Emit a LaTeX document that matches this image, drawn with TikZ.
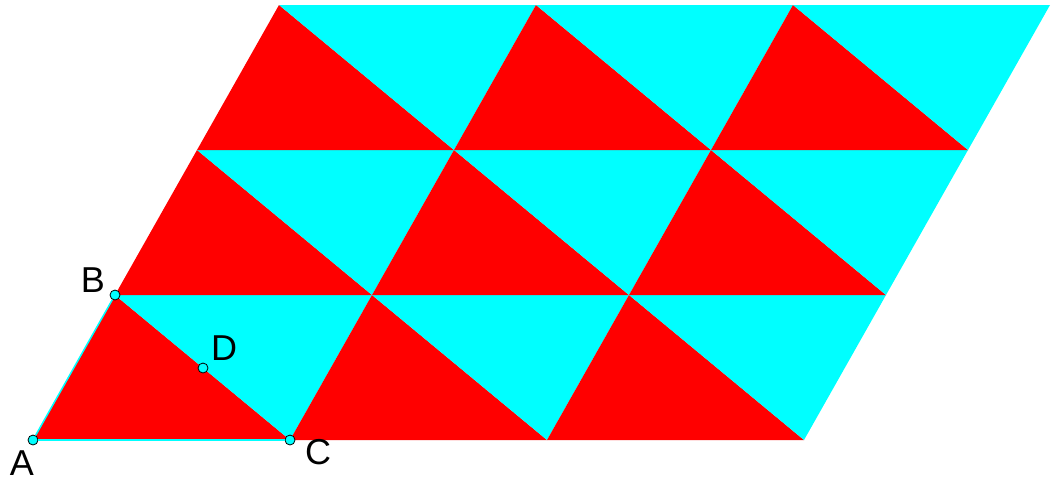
\documentclass[tikz,border=0pt]{standalone}
\usepackage{fontspec}
\setmainfont{Liberation Sans}
\usetikzlibrary{calc}
\definecolor{aqua}{RGB}{0,255,255}
\definecolor{tilered}{RGB}{255,0,0}

\begin{document}
\begin{tikzpicture}[
    x=1pt, y=-1pt,
    every node/.style={font=\fontsize{36}{40}\selectfont},
    redtri/.style={fill=tilered},
    cyantri/.style={fill=aqua},
    side/.style={draw=aqua, line width=1.5pt},
    pt/.style={circle, draw=black, fill=aqua, line width=0.8pt, inner sep=0pt, minimum size=10pt}
]
\useasboundingbox (0,0) rectangle (1056,480);

% tiling of the parallelogram
\foreach \i in {0,1,2} {
    \foreach \j in {0,1,2} {
        \coordinate (p) at ({33+257*\i+82*\j},{440-145*\j});
        \fill[redtri] (p) -- ++(82,-145) -- ++(175,145) -- cycle;
        \fill[cyantri] ($(p)+(82,-145)$) -- ++(257,0) -- ++(-82,145) -- cycle;
    }
}

\node[pt] (A) at (33,440) {};
\node[pt] (B) at (115,295) {};
\node[pt] (C) at (290,440) {};
\node[pt] (D) at (203,368) {};

\draw[side] (A) -- (B);
\draw[side] (A) -- (C);

\node (labA) at (22,463) {A};
\node (labB) at (93,280) {B};
\node (labC) at (318,452) {C};
\node (labD) at (224,348) {D};

\end{tikzpicture}
\end{document}
